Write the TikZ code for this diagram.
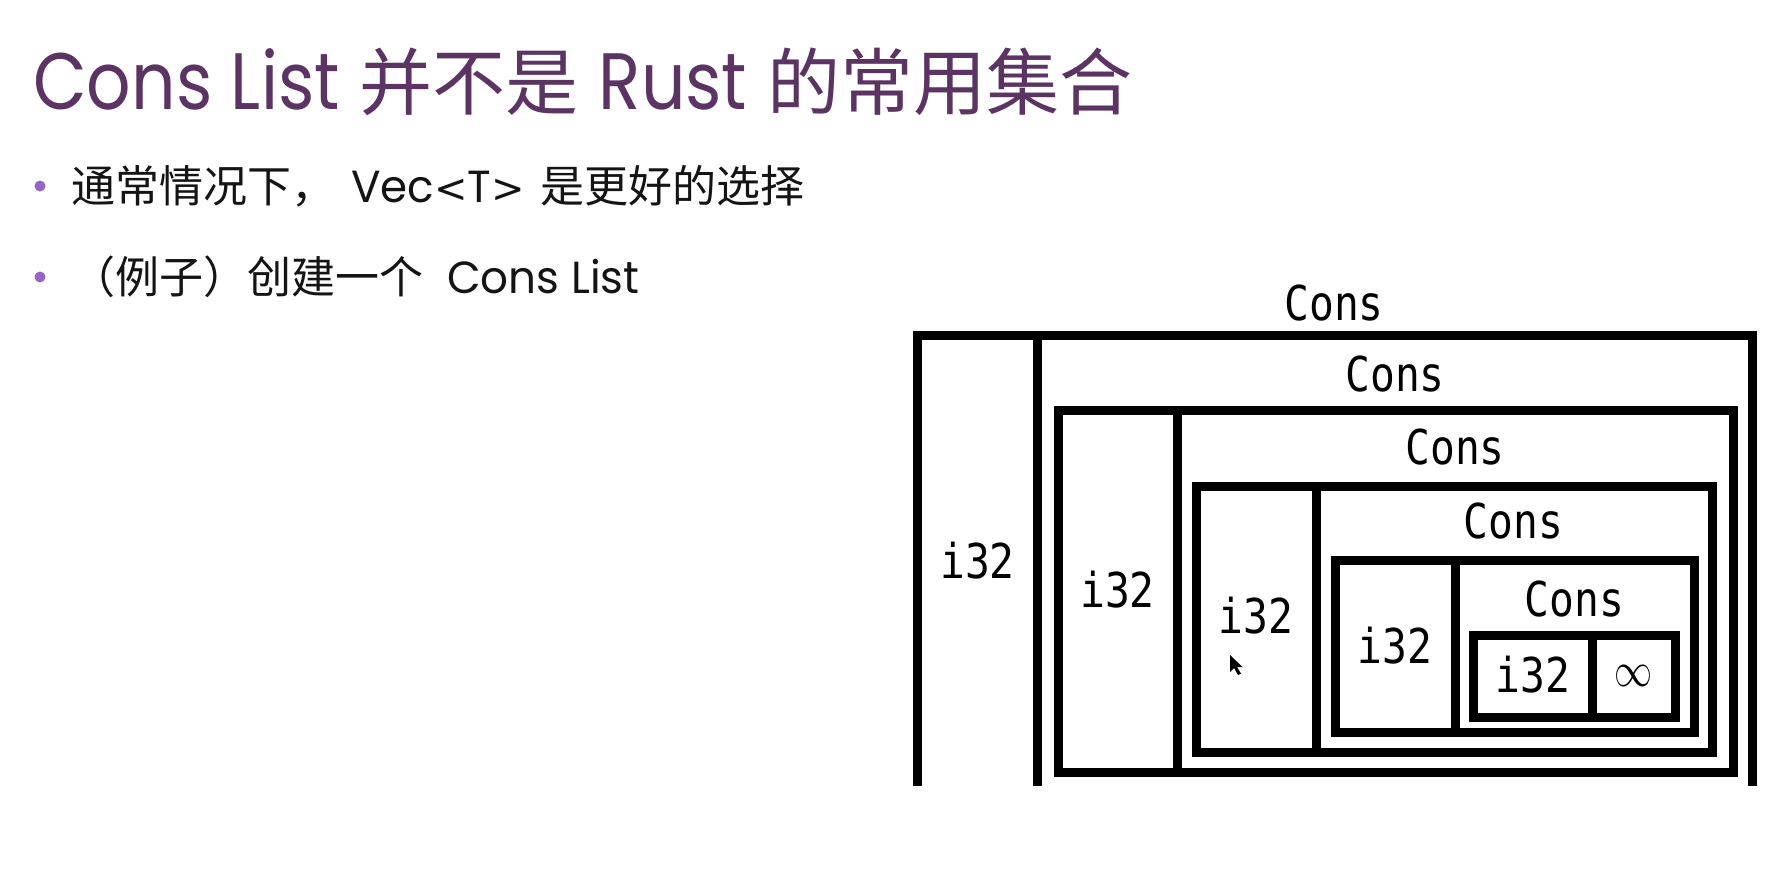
\documentclass[tikz,border=0pt]{standalone}
\usepackage{graphicx}
\usepackage{fontspec}
\newfontfamily\latfont[FakeStretch=0.87]{Poppins}
\newfontfamily\bodylat[FakeStretch=0.97]{Poppins}
\newfontfamily\cjk{Noto Sans CJK SC}
\newfontfamily\mono[FakeStretch=0.86]{DejaVu Sans Mono}
\newfontfamily\djv{DejaVu Sans}
\definecolor{titlepurple}{RGB}{92,52,99}
\definecolor{bulletpurple}{RGB}{150,100,200}
\definecolor{bodytext}{RGB}{20,20,20}
\tikzset{
  boxline/.style={line width=9pt, draw=black, line join=miter, line cap=butt},
  lbl/.style={font=\mono\fontsize{48}{58}\selectfont, inner sep=0pt, anchor=base, text=black},
  bulletdot/.style={fill=bulletpurple, draw=none},
  bodyline/.style={inner sep=0pt, anchor=base west, text=bodytext},
}
\newcommand{\bcjk}[1]{{\cjk\fontsize{44}{52}\selectfont #1}}
\newcommand{\blat}[1]{{\bodylat\fontsize{45}{54}\selectfont #1}}
\newcommand{\bsym}[1]{{\djv\fontsize{40}{48}\selectfont #1}}
\begin{document}
\begin{tikzpicture}[x=1pt,y=-1pt]
\fill[white] (0,0) rectangle (1784,872);
\useasboundingbox (0,0) rectangle (1784,872);

% title
\node[inner sep=0pt, anchor=base west, text=titlepurple] (title) at (33,110)
  {\latfont\fontsize{80}{96}\selectfont Cons List\hspace{20pt}{\cjk\fontsize{73}{90}\selectfont 并不是}\hspace{20pt}Rust\hspace{20pt}{\cjk\fontsize{73}{90}\selectfont 的常用集合}};

% bullets
\fill[bulletdot] (40,186) circle (5.5);
\fill[bulletdot] (40,277) circle (5.5);
\node[bodyline] (line1) at (71,202)
  {\bcjk{通常情况下，}\hspace{16pt}\blat{Vec}\bsym{<}\blat{T}\bsym{>}\hspace{16pt}\bcjk{是更好的选择}};
\node[bodyline] (line2) at (71,293)
  {\bcjk{（例子）创建一个}\hspace{24pt}\blat{Cons List}};

% box 1 (open at the bottom)
\draw[boxline] (917.5,786) -- (917.5,335) -- (1752,335) -- (1752,786);
\draw[boxline] (1037.5,335) -- (1037.5,786);
% box 2
\draw[boxline] (1058,410) rectangle (1733,772);
\draw[boxline] (1177.5,410) -- (1177.5,772);
% box 3
\draw[boxline] (1196.5,486) rectangle (1712,752);
\draw[boxline] (1316,486) -- (1316,752);
% box 4
\draw[boxline] (1335,560) rectangle (1694,732);
\draw[boxline] (1455,560) -- (1455,732);
% box 5
\draw[boxline] (1473.5,635) rectangle (1675.5,717.5);
\draw[boxline] (1592.5,635) -- (1592.5,717.5);

% labels
\node[lbl] (cons0) at (1334,320) {Cons};
\node[lbl] (cons1) at (1395,391) {Cons};
\node[lbl] (cons2) at (1455,464) {Cons};
\node[lbl] (cons3) at (1513.5,538) {Cons};
\node[lbl] (cons4) at (1574.5,616) {Cons};
\node[lbl] (ia) at (977.5,578) {i32};
\node[lbl] (ib) at (1117.5,607) {i32};
\node[lbl] (ic) at (1256,633) {i32};
\node[lbl] (id) at (1395,663) {i32};
\node[lbl] (ie) at (1533,692) {i32};
\node[inner sep=0pt, anchor=center] (inf) at (1633,676) {\resizebox{38pt}{21pt}{$\infty$}};

% mouse pointer
\fill[black] (1230,655) -- (1230,672) -- (1234,668) -- (1238,675) -- (1241,673.5) -- (1237,667) -- (1242.5,667) -- cycle;
\end{tikzpicture}
\end{document}
